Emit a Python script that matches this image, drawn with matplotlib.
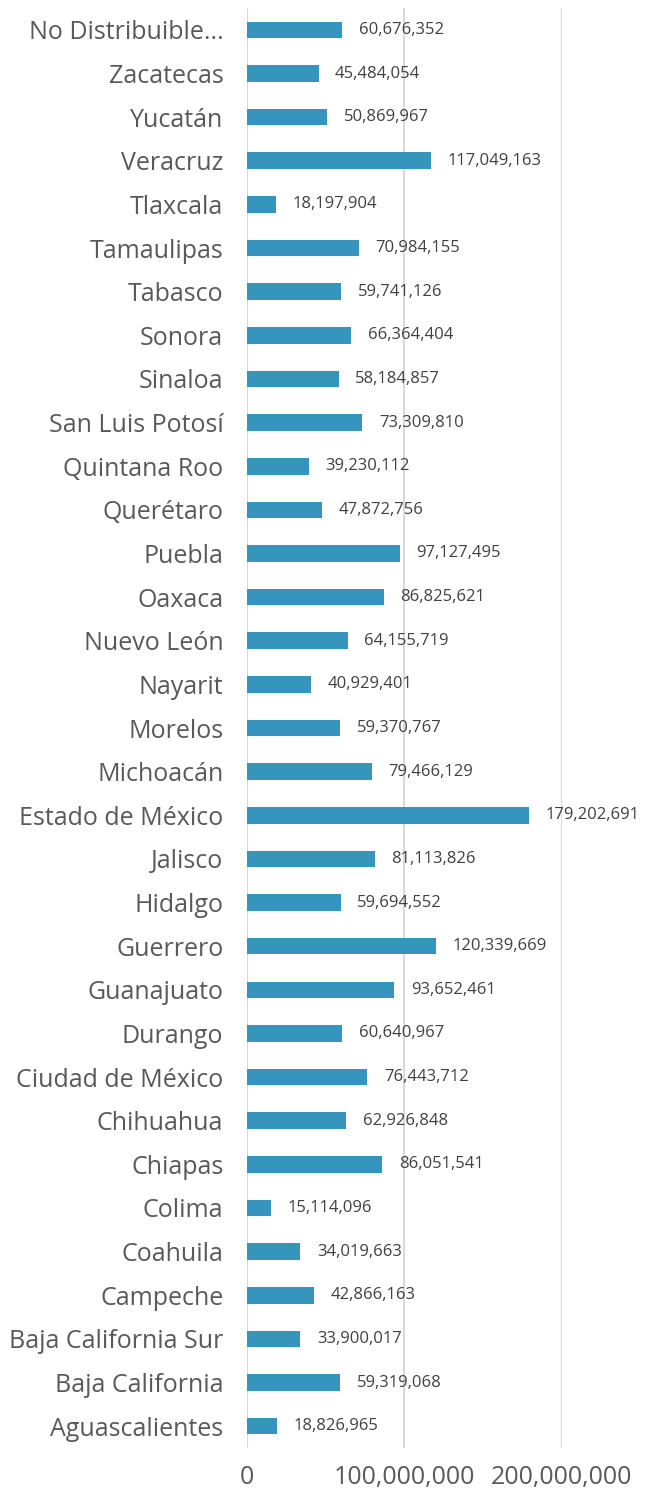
import matplotlib.pyplot as plt
from matplotlib.ticker import FuncFormatter

# states from bottom to top, as drawn
states = ["Aguascalientes", "Baja California", "Baja California Sur", "Campeche",
          "Coahuila", "Colima", "Chiapas", "Chihuahua", "Ciudad de México",
          "Durango", "Guanajuato", "Guerrero", "Hidalgo", "Jalisco",
          "Estado de México", "Michoacán", "Morelos", "Nayarit", "Nuevo León",
          "Oaxaca", "Puebla", "Querétaro", "Quintana Roo", "San Luis Potosí",
          "Sinaloa", "Sonora", "Tabasco", "Tamaulipas", "Tlaxcala", "Veracruz",
          "Yucatán", "Zacatecas", "No Distribuible..."]
values = [18826965, 59319068, 33900017, 42866163, 34019663, 15114096, 86051541,
          62926848, 76443712, 60640967, 93652461, 120339669, 59694552, 81113826,
          179202691, 79466129, 59370767, 40929401, 64155719, 86825621, 97127495,
          47872756, 39230112, 73309810, 58184857, 66364404, 59741126, 70984155,
          18197904, 117049163, 50869967, 45484054, 60676352]
xticks = [0, 100000000, 200000000]

plt.rcParams['font.family'] = ['Open Sans', 'DejaVu Sans']
txt = "#595959"

fig = plt.figure(figsize=(6.48, 14.92), dpi=100)
ax = fig.add_axes([0.381, 0.0295, 0.486, 0.9651])

ypos = range(len(states))
ax.barh(ypos, values, height=0.38, color="#3595BC", zorder=3)
for y, v in zip(ypos, values):
    ax.text(v + 10500000, y, f"{v:,}", va="center", ha="left", fontsize=12, color="#404040")

ax.set_xlim(0, 200000000)
ax.set_ylim(-0.5, len(states) - 0.5)
ax.set_yticks(list(ypos))
ax.set_yticklabels(states, fontsize=18, color=txt)
ax.set_xticks(xticks)
ax.xaxis.set_major_formatter(FuncFormatter(lambda x, p: f"{int(x):,}"))
ax.tick_params(axis="x", labelsize=18, colors=txt, length=0, pad=12)
ax.tick_params(axis="y", length=0, pad=17)
ax.grid(axis="x", color="#D9D9D9", linewidth=1.5, zorder=0)
for s in ax.spines.values():
    s.set_visible(False)

fig.savefig("out.png", dpi=100)
